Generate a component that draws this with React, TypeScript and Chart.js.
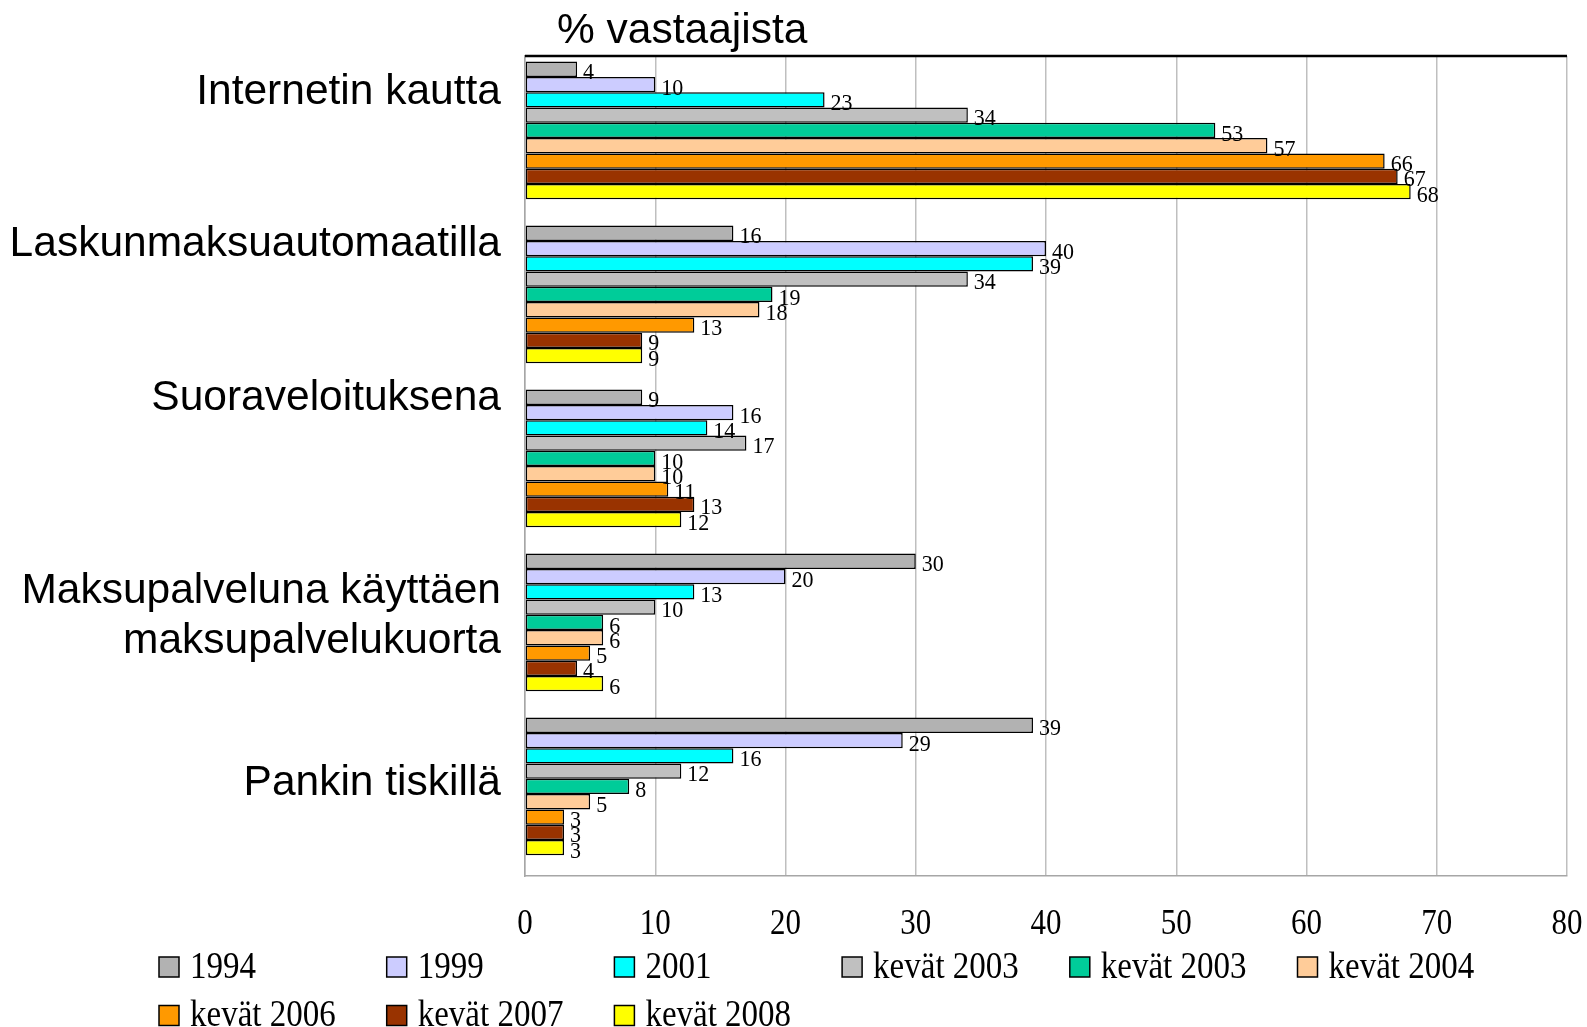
import React, { useEffect, useRef } from "react";
import { Chart, registerables, CategoryScale } from "chart.js";

Chart.register(...registerables);

// Category scale whose bands sit slightly above the band centre, like the source
class RaisedCategoryScale extends (CategoryScale as any) {
  static id = "raisedCategory";
  static defaults = (CategoryScale as any).defaults;
  buildTicks() {
    const t = super.buildTicks();
    (this as any)._startValue += 0.046;
    return t;
  }
}
Chart.register(RaisedCategoryScale as any);

const categories: (string | string[])[] = [
  "Internetin kautta",
  "Laskunmaksuautomaatilla",
  "Suoraveloituksena",
  ["Maksupalveluna käyttäen", "maksupalvelukuorta"],
  "Pankin tiskillä",
];

const seriesLabels = [
  "1994",
  "1999",
  "2001",
  "kevät 2003",
  "kevät 2003",
  "kevät 2004",
  "kevät 2006",
  "kevät 2007",
  "kevät 2008",
];

const s1994 = [4, 16, 9, 30, 39];
const s1999 = [10, 40, 16, 20, 29];
const s2001 = [23, 39, 14, 13, 16];
const s2003a = [34, 34, 17, 10, 12];
const s2003b = [53, 19, 10, 6, 8];
const s2004 = [57, 18, 10, 6, 5];
const s2006 = [66, 13, 11, 5, 3];
const s2007 = [67, 9, 13, 4, 3];
const s2008 = [68, 9, 12, 6, 3];

const seriesValues = [s1994, s1999, s2001, s2003a, s2003b, s2004, s2006, s2007, s2008];

const xTicks = [0, 10, 20, 30, 40, 50, 60, 70, 80];

const colors = [
  "#B2B2B2",
  "#CCCCFF",
  "#00FFFF",
  "#C0C0C0",
  "#00CC99",
  "#FFCC99",
  "#FF9900",
  "#993300",
  "#FFFF00",
];

// layout-only constants
const CATEGORY_LABEL_SHIFT = [-38, -50, -60, -6, -3];
const SERIF = "'Liberation Serif', 'Times New Roman', serif";
const SANS = "'Liberation Sans', Arial, sans-serif";
const V_STRETCH = 1.15;

function stretchedText(ctx: any, text: string, x: number, y: number, k = V_STRETCH) {
  ctx.save();
  ctx.translate(x, y);
  ctx.scale(1, k);
  ctx.fillText(text, 0, 0);
  ctx.restore();
}

const overlayPlugin = {
  id: "overlay",
  afterDraw(chart: any) {
    const ctx = chart.ctx;
    const area = chart.chartArea;
    const yScale = chart.scales.y;
    const xScale = chart.scales.x;
    ctx.save();
    // top border
    ctx.strokeStyle = "#000";
    ctx.lineWidth = 2.5;
    ctx.beginPath();
    ctx.moveTo(area.left, area.top);
    ctx.lineTo(area.right, area.top);
    ctx.stroke();

    // title
    ctx.fillStyle = "#000";
    ctx.font = `42.5px ${SANS}`;
    ctx.textAlign = "left";
    ctx.textBaseline = "middle";
    ctx.fillText("% vastaajista", area.left + 32, 31);

    // category labels
    ctx.textAlign = "right";
    categories.forEach((c, i) => {
      const yc = yScale.getPixelForValue(i) + CATEGORY_LABEL_SHIFT[i];
      const lines = Array.isArray(c) ? c : [c];
      const lh = 50;
      lines.forEach((ln, j) => {
        const y = yc + (j - (lines.length - 1) / 2) * lh;
        ctx.fillText(ln, area.left - 24, y);
      });
    });

    // x tick labels
    ctx.font = `31px ${SERIF}`;
    ctx.textAlign = "center";
    ctx.textBaseline = "middle";
    xTicks.forEach((v) => {
      stretchedText(ctx, String(v), xScale.getPixelForValue(v), area.bottom + 49);
    });

    // data labels
    ctx.font = `22px ${SERIF}`;
    ctx.textAlign = "left";
    ctx.textBaseline = "middle";
    chart.data.datasets.forEach((ds: any, di: number) => {
      const meta = chart.getDatasetMeta(di);
      meta.data.forEach((bar: any, i: number) => {
        stretchedText(ctx, String(ds.data[i]), bar.x + 6, bar.y + 4, 1.05);
      });
    });

    // legend
    ctx.font = `33px ${SERIF}`;
    chart.data.datasets.forEach((ds: any, di: number) => {
      const col = di % 6;
      const row = Math.floor(di / 6);
      const x = 159 + col * 227.7;
      const y = 967 + row * 48.5;
      ctx.fillStyle = ds.backgroundColor;
      ctx.fillRect(x, y - 10, 20, 20);
      ctx.strokeStyle = "#000";
      ctx.lineWidth = 1.5;
      ctx.strokeRect(x, y - 10, 20, 20);
      ctx.fillStyle = "#000";
      ctx.textAlign = "left";
      stretchedText(ctx, ds.label, x + 31, y + 1);
    });
    ctx.restore();
  },
};

export default function App() {
  const ref = useRef<HTMLCanvasElement>(null);
  useEffect(() => {
    if (!ref.current) return;
    const chart = new Chart(ref.current, {
      type: "bar",
      data: {
        labels: categories.map((c) => (Array.isArray(c) ? c.join(" ") : c)),
        datasets: seriesLabels.map((lab, i) => ({
          label: lab,
          data: seriesValues[i],
          backgroundColor: colors[i],
          borderColor: "#000",
          borderWidth: 1.5,
          borderSkipped: false,
          categoryPercentage: 0.84,
          barPercentage: 1,
        })),
      },
      options: {
        indexAxis: "y",
        animation: false,
        responsive: false,
        maintainAspectRatio: false,
        layout: { padding: { top: 56, right: 20, left: 0, bottom: 0 } },
        plugins: {
          legend: { display: false },
          tooltip: { enabled: false },
          title: { display: false },
        },
        scales: {
          x: {
            min: 0,
            max: 80,
            afterFit: (s: any) => {
              s.height = 151;
              s.paddingLeft = 0;
              s.paddingRight = 0;
            },
            afterBuildTicks: (s: any) => {
              s.ticks = xTicks.map((v) => ({ value: v }));
            },
            grid: {
              color: "#BFBFBF",
              lineWidth: 1.5,
              drawTicks: false,
            },
            border: { display: true, color: "#A6A6A6", width: 1.5 },
            ticks: { display: false },
          },
          y: {
            type: "raisedCategory",
            offset: true,
            afterFit: (s: any) => {
              s.width = 525;
              s.paddingTop = 0;
              s.paddingBottom = 0;
            },
            grid: { display: false },
            border: { display: true, color: "#A6A6A6", width: 1.5 },
            ticks: { display: false },
          },
        },
      },
      plugins: [overlayPlugin],
    } as any);
    return () => chart.destroy();
  }, []);
  return (
    <div style={{ position: "fixed", left: 0, top: 0, width: 1587, height: 1027, background: "#fff" }}>
      <canvas ref={ref} width={1587} height={1027} style={{ display: "block" }} />
    </div>
  );
}
